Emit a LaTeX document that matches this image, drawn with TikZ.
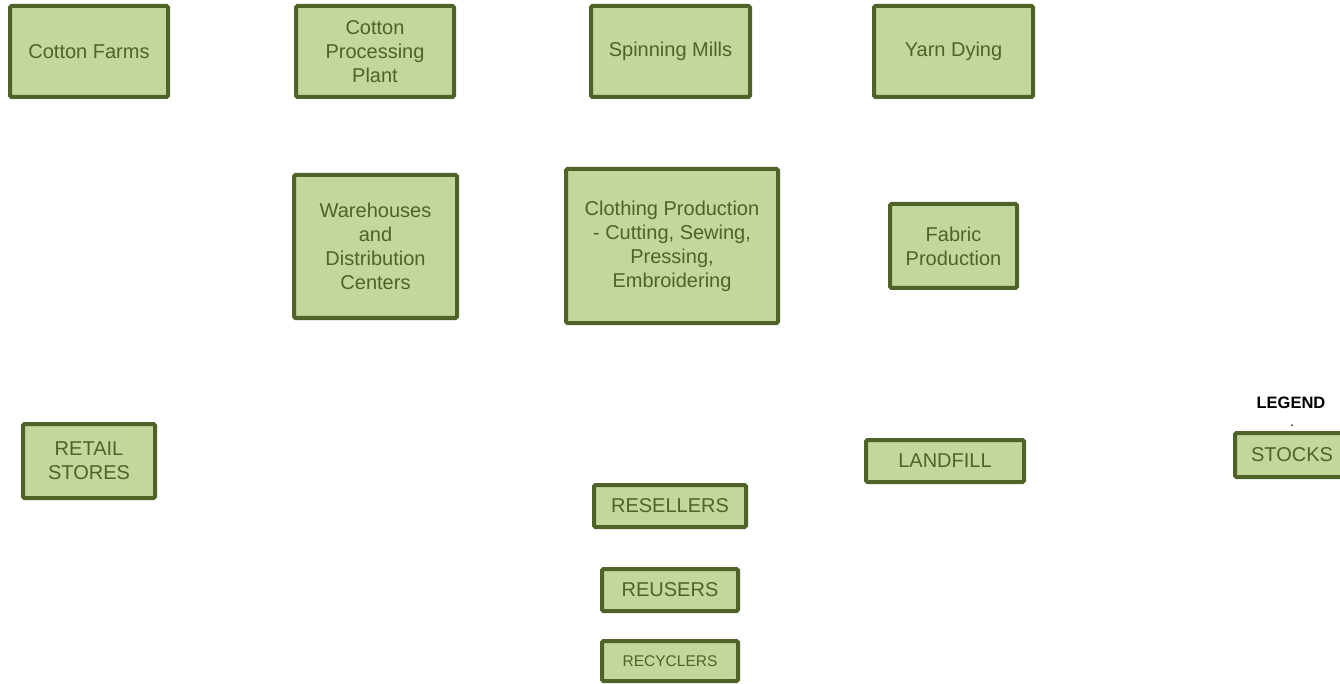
\documentclass[tikz,border=0pt]{standalone}
\usepackage{fontspec}
\setmainfont{Liberation Sans}
\definecolor{boxfill}{HTML}{C3D69B}
\definecolor{boxline}{HTML}{4F6228}
\begin{document}
\begin{tikzpicture}[x=1pt,y=-1pt,
  stockbox/.style={draw=boxline, fill=boxfill, line width=4pt, rounded corners=1.5pt,
    text=boxline, inner sep=0pt, align=center, font=\fontsize{20}{24}\selectfont},
  bsize/.style 2 args={minimum width=#1pt, minimum height=#2pt}]
\useasboundingbox (0,0) rectangle (1340,684);
\clip (0,0) rectangle (1340,684);
\node[stockbox, bsize={158}{91}] (farms) at (89,51.5) {Cotton Farms};
\node[stockbox, bsize={158}{91}] (proc) at (375,51.5) {Cotton\\Processing\\Plant};
\node[stockbox, bsize={159}{91}] (spin) at (670.5,51.5) {Spinning Mills};
\node[stockbox, bsize={159}{91}] (yarn) at (953.5,51.5) {Yarn Dying};
\node[stockbox, bsize={163}{143}] (ware) at (375.5,246.5) {Warehouses\\and\\Distribution\\Centers};
\node[stockbox, bsize={212}{154}] (cloth) at (672,246) {Clothing Production\\- Cutting, Sewing,\\Pressing,\\Embroidering};
\node[stockbox, bsize={127}{84}] (fabric) at (953.5,246) {Fabric\\Production};
\node[stockbox, bsize={132}{74}] (retail) at (89,461) {RETAIL\\STORES};
\node[stockbox, bsize={158}{42}] (landfill) at (945,461) {LANDFILL};
\node[stockbox, bsize={152}{42}] (resellers) at (670,506) {RESELLERS};
\node[stockbox, bsize={136}{42}] (reusers) at (670,590) {REUSERS};
\node[stockbox, bsize={136}{40}, font=\fontsize{15.5}{18}\selectfont] (recyclers) at (670,661) {RECYCLERS};
\node[stockbox, bsize={114}{44}] (stocks) at (1292,455) {STOCKS};
\node[font=\fontsize{16.5}{20}\selectfont\bfseries, inner sep=0pt] (legend) at (1291,403) {LEGEND};
\node[font=\fontsize{14}{14}\selectfont, inner sep=0pt, anchor=south] (dot) at (1292,427) {.};
\end{tikzpicture}
\end{document}
